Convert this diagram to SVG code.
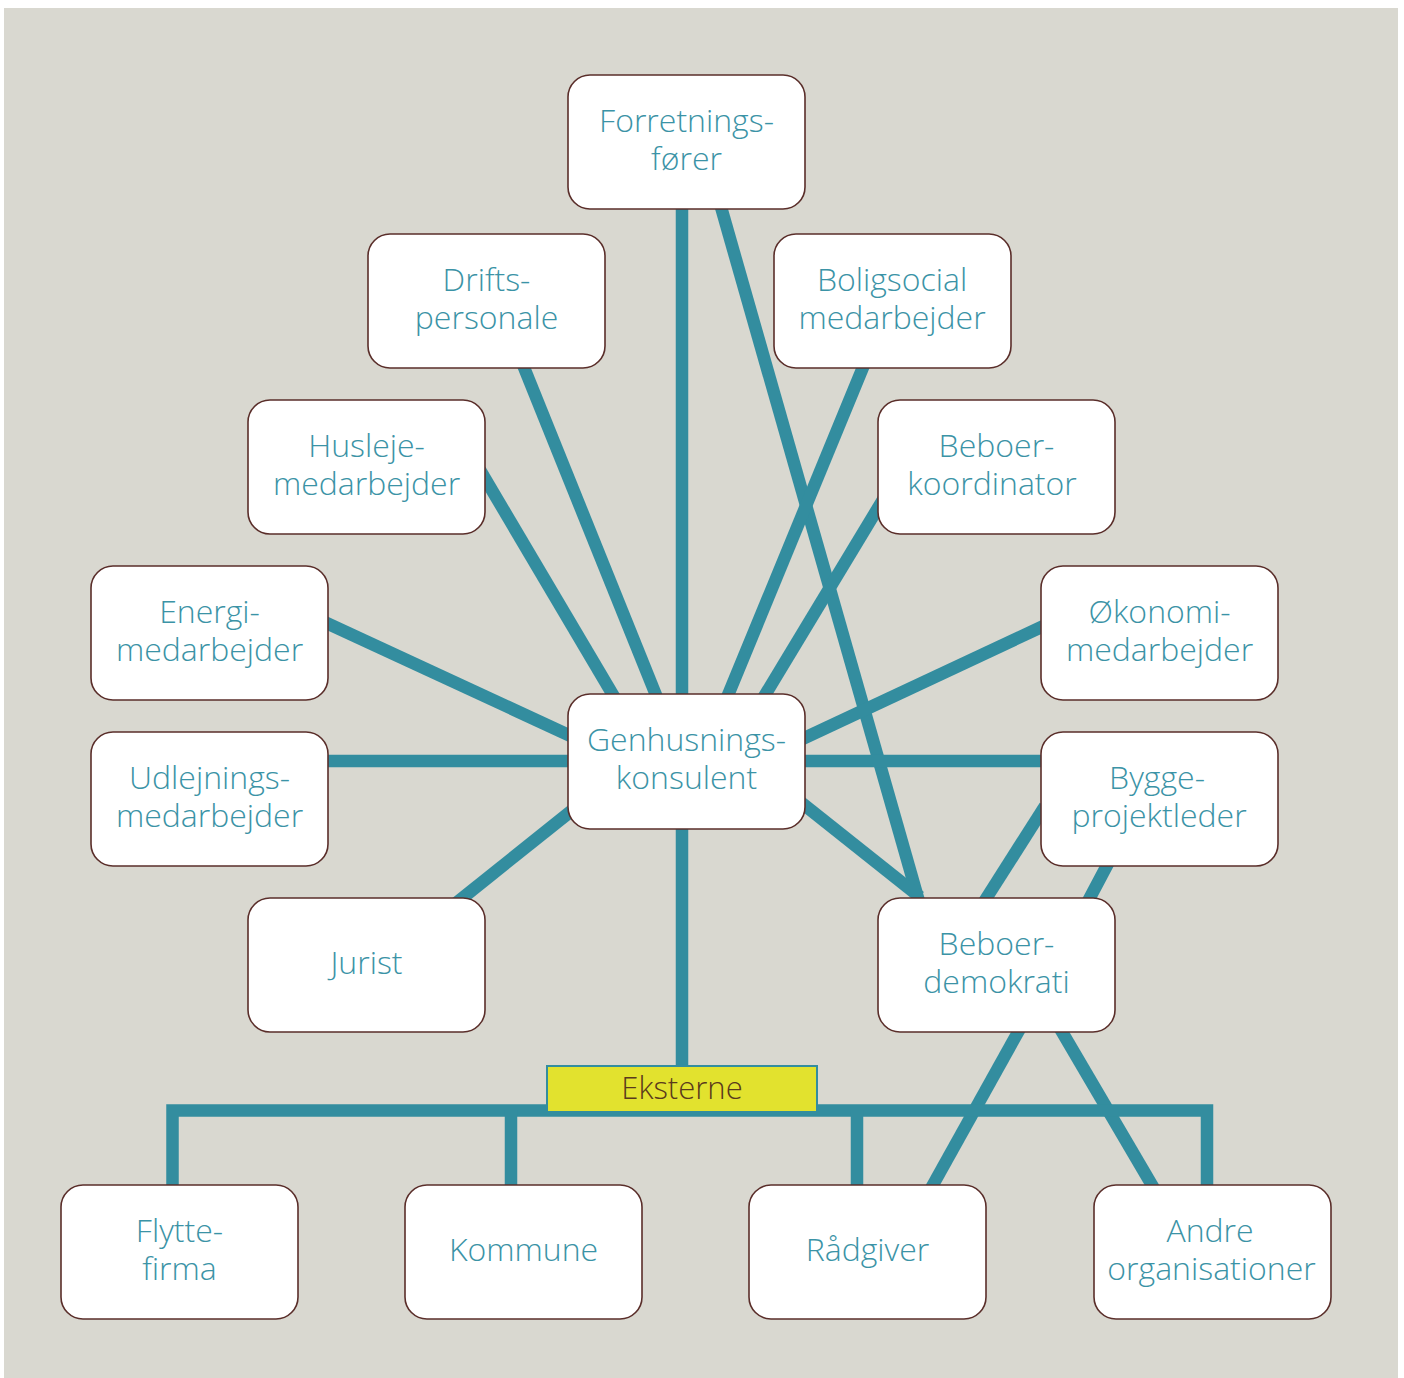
<svg xmlns="http://www.w3.org/2000/svg" width="1404" height="1378" viewBox="0 0 1404 1378">
<style>
.box{fill:#ffffff;stroke:#5a2e2a;stroke-width:1.6}
.lbl{font-family:"Open Sans","Liberation Sans",sans-serif;font-weight:300;font-size:32px;fill:#3b93a6;text-anchor:middle}
.ln{stroke:#338d9f;stroke-width:12.5;fill:none}
.ext{fill:#e2e22e;stroke:#338d9f;stroke-width:2}
.extt{font-family:"Open Sans","Liberation Sans",sans-serif;font-weight:300;font-size:31px;fill:#5a3a1c;text-anchor:middle}
</style>
<rect x="0" y="0" width="1404" height="1378" fill="#ffffff"/>
<rect x="4" y="8" width="1394" height="1370" fill="#d9d8d0"/>
<g id="connectors">
<line class="ln" x1="682" y1="200" x2="682" y2="700"/>
<line class="ln" x1="719" y1="200" x2="920" y2="905"/>
<line class="ln" x1="521" y1="360" x2="658" y2="700"/>
<line class="ln" x1="480" y1="470" x2="616" y2="700"/>
<line class="ln" x1="866" y1="360" x2="726" y2="700"/>
<line class="ln" x1="884" y1="498" x2="762" y2="700"/>
<line class="ln" x1="320" y1="620" x2="575" y2="738"/>
<line class="ln" x1="1050" y1="623" x2="798" y2="741"/>
<line class="ln" x1="320" y1="761" x2="575" y2="761"/>
<line class="ln" x1="798" y1="761" x2="1050" y2="761"/>
<line class="ln" x1="455" y1="904" x2="575" y2="808"/>
<line class="ln" x1="798" y1="800" x2="920" y2="897"/>
<line class="ln" x1="1045" y1="806" x2="982" y2="905"/>
<line class="ln" x1="1112" y1="856" x2="1086" y2="905"/>
<line class="ln" x1="682" y1="820" x2="682" y2="1070"/>
<line class="ln" x1="1022" y1="1025" x2="929" y2="1192"/>
<line class="ln" x1="1058" y1="1025" x2="1156" y2="1192"/>
<path class="ln" d="M172.5 1190 V1110.5 H1207 V1190"/>
<line class="ln" x1="511" y1="1110" x2="511" y2="1190"/>
<line class="ln" x1="857" y1="1110" x2="857" y2="1190"/>
</g>
<g id="n-forretning"><rect class="box" x="568" y="75" width="237" height="134" rx="22"/><text class="lbl"><tspan x="686.5" y="132">Forretnings-</tspan><tspan x="686.5" y="170">fører</tspan></text></g>
<g id="n-drift"><rect class="box" x="368" y="234" width="237" height="134" rx="22"/><text class="lbl"><tspan x="486.5" y="291">Drifts-</tspan><tspan x="486.5" y="329">personale</tspan></text></g>
<g id="n-boligsocial"><rect class="box" x="774" y="234" width="237" height="134" rx="22"/><text class="lbl"><tspan x="892" y="291">Boligsocial</tspan><tspan x="892" y="329">medarbejder</tspan></text></g>
<g id="n-husleje"><rect class="box" x="248" y="400" width="237" height="134" rx="22"/><text class="lbl"><tspan x="366.5" y="457">Husleje-</tspan><tspan x="366.5" y="495">medarbejder</tspan></text></g>
<g id="n-beboerkoord"><rect class="box" x="878" y="400" width="237" height="134" rx="22"/><text class="lbl"><tspan x="996.5" y="457">Beboer-</tspan><tspan x="992" y="495">koordinator</tspan></text></g>
<g id="n-energi"><rect class="box" x="91" y="566" width="237" height="134" rx="22"/><text class="lbl"><tspan x="209.5" y="623">Energi-</tspan><tspan x="209.5" y="661">medarbejder</tspan></text></g>
<g id="n-okonomi"><rect class="box" x="1041" y="566" width="237" height="134" rx="22"/><text class="lbl"><tspan x="1159.5" y="623">Økonomi-</tspan><tspan x="1159.5" y="661">medarbejder</tspan></text></g>
<g id="n-genhus"><rect class="box" x="568" y="694" width="237" height="135" rx="22"/><text class="lbl"><tspan x="686.5" y="751">Genhusnings-</tspan><tspan x="686.5" y="789">konsulent</tspan></text></g>
<g id="n-udlejning"><rect class="box" x="91" y="732" width="237" height="134" rx="22"/><text class="lbl"><tspan x="209.5" y="789">Udlejnings-</tspan><tspan x="209.5" y="827">medarbejder</tspan></text></g>
<g id="n-bygge"><rect class="box" x="1041" y="732" width="237" height="134" rx="22"/><text class="lbl"><tspan x="1157" y="789">Bygge-</tspan><tspan x="1159" y="827">projektleder</tspan></text></g>
<g id="n-jurist"><rect class="box" x="248" y="898" width="237" height="134" rx="22"/><text class="lbl" x="366.5" y="974">Jurist</text></g>
<g id="n-beboerdemo"><rect class="box" x="878" y="898" width="237" height="134" rx="22"/><text class="lbl"><tspan x="996.5" y="955">Beboer-</tspan><tspan x="996.5" y="993">demokrati</tspan></text></g>
<g id="n-eksterne"><rect class="ext" x="547" y="1066" width="270" height="46"/><text class="extt" x="682" y="1099">Eksterne</text></g>
<g id="n-flytte"><rect class="box" x="61" y="1185" width="237" height="134" rx="22"/><text class="lbl"><tspan x="179.5" y="1242">Flytte-</tspan><tspan x="179.5" y="1280">firma</tspan></text></g>
<g id="n-kommune"><rect class="box" x="405" y="1185" width="237" height="134" rx="22"/><text class="lbl" x="523.5" y="1261">Kommune</text></g>
<g id="n-radgiver"><rect class="box" x="749" y="1185" width="237" height="134" rx="22"/><text class="lbl" x="867.5" y="1261">Rådgiver</text></g>
<g id="n-andre"><rect class="box" x="1094" y="1185" width="237" height="134" rx="22"/><text class="lbl"><tspan x="1210" y="1242">Andre</tspan><tspan x="1211.5" y="1280">organisationer</tspan></text></g>
</svg>
